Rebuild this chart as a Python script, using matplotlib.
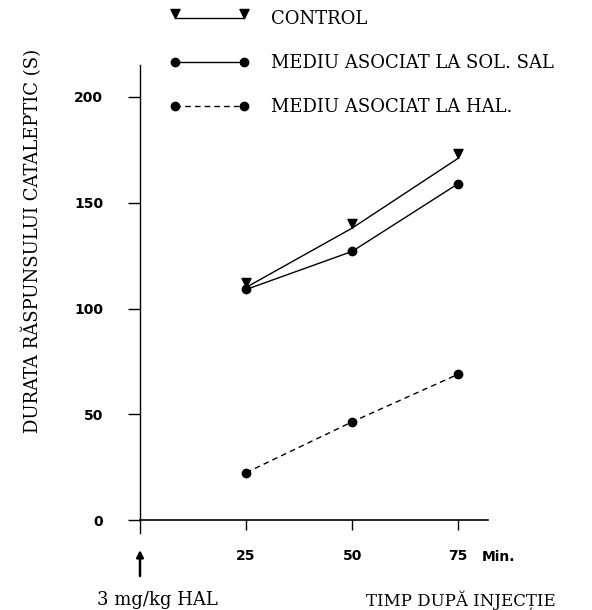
import numpy as np
import matplotlib
matplotlib.use('Agg')
import matplotlib.pyplot as plt
from matplotlib.path import Path

# time after injection (min)
timp = [25, 50, 75]

# durata raspunsului cataleptic (s)
control = [110, 138, 171]
sol_sal = [109, 127, 159]
hal = [22.5, 46.5, 69]

labels = ['CONTROL', 'MEDIU ASOCIAT LA SOL. SAL', 'MEDIU ASOCIAT LA HAL.']
yticks = [0, 50, 100, 150, 200]

# triangle with its tip on the data point (sits just above the line)
tri = Path([(-0.55, 1.1), (0.55, 1.1), (0, 0), (-0.55, 1.1)],
           [Path.MOVETO, Path.LINETO, Path.LINETO, Path.CLOSEPOLY])

matplotlib.rc('axes.spines', top=False, right=False)
matplotlib.rc('axes', grid=False, facecolor='white')

fig = plt.figure(figsize=(5.92, 6.10), dpi=100)
ax = fig.add_axes([0.2365, 0.1262, 0.5878, 0.7672])

ax.plot(timp, control, color='black', lw=1.0, marker=tri, markersize=13,
        label=labels[0])
ax.plot(timp, sol_sal, color='black', lw=1.0, marker='o', markersize=6,
        label=labels[1])
ax.plot(timp, hal, color='black', lw=1.0, marker='o', markersize=6,
        linestyle=(0, (4, 3)), label=labels[2])

ax.set_xlim(0, 82)
ax.set_ylim(-6, 215)
ax.spines['bottom'].set_position(('data', 0))
ax.spines['left'].set_linewidth(1.0)
ax.spines['bottom'].set_linewidth(1.2)

ax.set_xticks(timp)
ax.set_xticklabels([str(t) for t in timp], fontweight='bold', fontsize=10)
ax.set_yticks(yticks)
ax.set_yticklabels([str(t) for t in yticks], fontweight='bold', fontsize=10)
ax.tick_params(axis='y', direction='out', length=8.5, width=1.0, pad=18)
ax.tick_params(axis='x', direction='out', length=7, width=1.0, pad=14)

serif = 'DejaVu Serif'

fig.text(0.054, 0.605, 'DURATA RĂSPUNSULUI CATALEPTIC (S)', rotation=90,
         ha='center', va='center', family=serif, fontsize=13)
fig.text(482 / 592, 1 - 557 / 610, 'Min.', ha='left', va='center',
         fontweight='bold', fontsize=10)
fig.text(157 / 592, 1 - 600 / 610, '3 mg/kg HAL', ha='center', va='center',
         family=serif, fontsize=13)
fig.text(461 / 592, 1 - 600 / 610, 'TIMP DUPĂ INJECȚIE', ha='center',
         va='center', family=serif, fontsize=12)

# injection arrow below the origin
ax.annotate('', xy=(140 / 592, 1 - 550 / 610), xycoords='figure fraction',
            xytext=(140 / 592, 1 - 576 / 610), textcoords='figure fraction',
            arrowprops=dict(arrowstyle='-|>', color='black', lw=1.8,
                            mutation_scale=10, shrinkA=0, shrinkB=0))

ax.legend(loc='upper left', bbox_to_anchor=(170 / 592, 1 - 10 / 610),
          bbox_transform=fig.transFigure, frameon=False, numpoints=2,
          handlelength=4.4, handletextpad=1.2, labelspacing=1.45,
          borderpad=0, borderaxespad=0,
          prop={'family': serif, 'size': 13})

plt.savefig('out.png', dpi=100)
